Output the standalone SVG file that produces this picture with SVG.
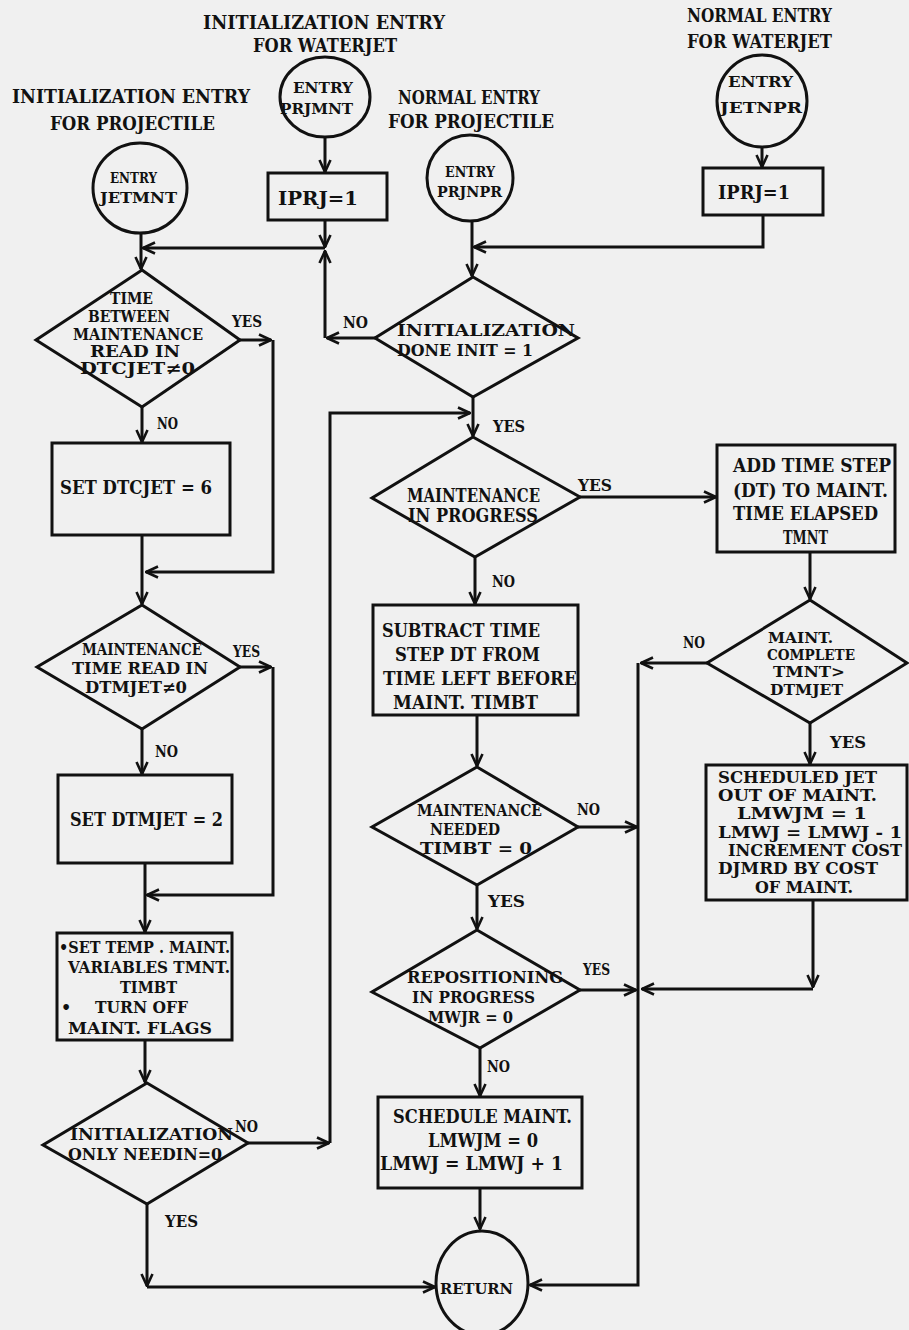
<svg xmlns="http://www.w3.org/2000/svg" width="909" height="1330" viewBox="0 0 909 1330">
<defs>
<marker id="ah" viewBox="0 0 14 14" refX="13" refY="7" markerWidth="14" markerHeight="14" markerUnits="userSpaceOnUse" orient="auto">
<path d="M1,1.5 L13,7 L1,12.5" fill="none" stroke="#111" stroke-width="2.6"/>
</marker>
<style>
.n{fill:#f0f0f0;stroke:#111;stroke-width:3}
.c{fill:none;stroke:#111;stroke-width:3;marker-end:url(#ah)}
text{font-family:"DejaVu Serif","Liberation Serif",serif;font-weight:bold;fill:#111}
.h{font-size:19px}
.b{font-size:19px}
.t{font-size:16px}
.d{font-size:16px}
.l{font-size:17px}
.e{font-size:15px}
</style>
</defs>
<rect width="909" height="1330" fill="#f0f0f0"/>

<g id="headings">
<text class="h" x="203" y="29" textLength="242" lengthAdjust="spacingAndGlyphs">INITIALIZATION ENTRY</text>
<text class="h" x="253" y="52" textLength="144" lengthAdjust="spacingAndGlyphs">FOR WATERJET</text>
<text class="h" x="12" y="103" textLength="238" lengthAdjust="spacingAndGlyphs">INITIALIZATION ENTRY</text>
<text class="h" x="50" y="130" textLength="165" lengthAdjust="spacingAndGlyphs">FOR PROJECTILE</text>
<text class="h" x="398" y="104" textLength="142" lengthAdjust="spacingAndGlyphs">NORMAL ENTRY</text>
<text class="h" x="388" y="128" textLength="166" lengthAdjust="spacingAndGlyphs">FOR PROJECTILE</text>
<text class="h" x="687" y="22" textLength="145" lengthAdjust="spacingAndGlyphs">NORMAL ENTRY</text>
<text class="h" x="687" y="48" textLength="145" lengthAdjust="spacingAndGlyphs">FOR WATERJET</text>
</g>

<g id="connectors">
<path class="c" d="M141,233 V269"/>
<path class="c" d="M325,137 V172"/>
<path class="c" d="M325,220 V247"/>
<path class="c" d="M325,248 H143"/>
<path class="c" d="M375,338 H327"/>
<path class="c" d="M325,338 V251"/>
<path class="c" d="M762,147 V167"/>
<path class="c" d="M763,215 V247 H474"/>
<path class="c" d="M472,221 V276"/>
<path class="c" d="M473,397 V436"/>
<path class="c" d="M248,1143 H329"/>
<path class="c" d="M330,1143 V413 H470"/>
<path class="c" d="M580,497 H716"/>
<path class="c" d="M475,557 V604"/>
<path class="c" d="M477,715 V766"/>
<path class="c" d="M578,827 H637"/>
<path class="c" d="M477,885 V929"/>
<path class="c" d="M580,990 H636"/>
<path class="c" d="M480,1048 V1096"/>
<path class="c" d="M480,1188 V1229"/>
<path class="c" d="M810,552 V599"/>
<path class="c" d="M707,663 H641"/>
<path class="c" d="M638,663 V1285 H530"/>
<path class="c" d="M810,723 V764"/>
<path class="c" d="M813,900 V987"/>
<path class="c" d="M813,989 H642"/>
<path class="c" d="M142,407 V442"/>
<path class="c" d="M142,535 V604"/>
<path class="c" d="M240,340 H271"/>
<path class="c" d="M273,340 V572 H146"/>
<path class="c" d="M142,729 V774"/>
<path class="c" d="M240,667 H271"/>
<path class="c" d="M273,667 V895 H147"/>
<path class="c" d="M145,863 V932"/>
<path class="c" d="M145,1040 V1082"/>
<path class="c" d="M147,1204 V1286"/>
<path class="c" d="M147,1287 H435"/>
</g>

<g id="labels">
<text class="l" x="232" y="327" textLength="30" lengthAdjust="spacingAndGlyphs">YES</text>
<text class="l" x="157" y="429" textLength="21" lengthAdjust="spacingAndGlyphs">NO</text>
<text class="l" x="233" y="657" textLength="27" lengthAdjust="spacingAndGlyphs">YES</text>
<text class="l" x="155" y="757" textLength="23" lengthAdjust="spacingAndGlyphs">NO</text>
<text class="l" x="235" y="1132" textLength="23" lengthAdjust="spacingAndGlyphs">NO</text>
<text class="l" x="165" y="1227" textLength="33" lengthAdjust="spacingAndGlyphs">YES</text>
<text class="l" x="343" y="328" textLength="25" lengthAdjust="spacingAndGlyphs">NO</text>
<text class="l" x="493" y="432" textLength="32" lengthAdjust="spacingAndGlyphs">YES</text>
<text class="l" x="578" y="491" textLength="34" lengthAdjust="spacingAndGlyphs">YES</text>
<text class="l" x="492" y="587" textLength="23" lengthAdjust="spacingAndGlyphs">NO</text>
<text class="l" x="577" y="815" textLength="23" lengthAdjust="spacingAndGlyphs">NO</text>
<text class="l" x="488" y="907" textLength="37" lengthAdjust="spacingAndGlyphs">YES</text>
<text class="l" x="583" y="975" textLength="27" lengthAdjust="spacingAndGlyphs">YES</text>
<text class="l" x="487" y="1072" textLength="23" lengthAdjust="spacingAndGlyphs">NO</text>
<text class="l" x="683" y="648" textLength="22" lengthAdjust="spacingAndGlyphs">NO</text>
<text class="l" x="830" y="748" textLength="36" lengthAdjust="spacingAndGlyphs">YES</text>
</g>

<g id="entry-jetmnt">
<ellipse class="n" cx="140" cy="188" rx="47" ry="45"/>
<text class="e" x="110" y="183" textLength="47" lengthAdjust="spacingAndGlyphs">ENTRY</text>
<text class="e" x="100" y="203" textLength="77" lengthAdjust="spacingAndGlyphs">JETMNT</text>
</g>
<g id="entry-prjmnt">
<ellipse class="n" cx="325" cy="97" rx="45" ry="40"/>
<text class="e" x="293" y="93" textLength="60" lengthAdjust="spacingAndGlyphs">ENTRY</text>
<text class="e" x="280" y="114" textLength="73" lengthAdjust="spacingAndGlyphs">PRJMNT</text>
</g>
<g id="entry-prjnpr">
<ellipse class="n" cx="470" cy="178" rx="43" ry="43"/>
<text class="e" x="445" y="177" textLength="50" lengthAdjust="spacingAndGlyphs">ENTRY</text>
<text class="e" x="437" y="197" textLength="65" lengthAdjust="spacingAndGlyphs">PRJNPR</text>
</g>
<g id="entry-jetnpr">
<ellipse class="n" cx="762" cy="101" rx="45" ry="46"/>
<text class="e" x="728" y="87" textLength="65" lengthAdjust="spacingAndGlyphs">ENTRY</text>
<text class="e" x="720" y="113" textLength="82" lengthAdjust="spacingAndGlyphs">JETNPR</text>
</g>

<g id="iprj-left">
<rect class="n" x="268" y="173" width="119" height="47"/>
<text class="b" x="278" y="205" textLength="80" lengthAdjust="spacingAndGlyphs">IPRJ=1</text>
</g>
<g id="iprj-right">
<rect class="n" x="703" y="168" width="120" height="47"/>
<text class="b" x="718" y="199" textLength="72" lengthAdjust="spacingAndGlyphs">IPRJ=1</text>
</g>

<g id="dec-time-between">
<polygon class="n" points="142,270 240,340 142,407 36,340"/>
<text class="d" x="110" y="304" textLength="43" lengthAdjust="spacingAndGlyphs">TIME</text>
<text class="d" x="88" y="322" textLength="82" lengthAdjust="spacingAndGlyphs">BETWEEN</text>
<text class="d" x="73" y="340" textLength="130" lengthAdjust="spacingAndGlyphs">MAINTENANCE</text>
<text class="d" x="90" y="357" textLength="90" lengthAdjust="spacingAndGlyphs">READ IN</text>
<text class="d" x="80" y="374" textLength="115" lengthAdjust="spacingAndGlyphs">DTCJET≠0</text>
</g>
<g id="set-dtcjet">
<rect class="n" x="52" y="443" width="178" height="92"/>
<text class="b" x="60" y="494" textLength="152" lengthAdjust="spacingAndGlyphs">SET DTCJET = 6</text>
</g>
<g id="dec-maint-time">
<polygon class="n" points="142,605 240,667 142,729 37,667"/>
<text class="d" x="82" y="655" textLength="120" lengthAdjust="spacingAndGlyphs">MAINTENANCE</text>
<text class="d" x="72" y="674" textLength="136" lengthAdjust="spacingAndGlyphs">TIME READ IN</text>
<text class="d" x="85" y="693" textLength="102" lengthAdjust="spacingAndGlyphs">DTMJET≠0</text>
</g>
<g id="set-dtmjet">
<rect class="n" x="58" y="775" width="174" height="88"/>
<text class="b" x="70" y="826" textLength="153" lengthAdjust="spacingAndGlyphs">SET DTMJET = 2</text>
</g>
<g id="set-temp">
<rect class="n" x="57" y="933" width="175" height="107"/>
<text class="t" x="59" y="953" textLength="171" lengthAdjust="spacingAndGlyphs">•SET TEMP . MAINT.</text>
<text class="t" x="68" y="973" textLength="162" lengthAdjust="spacingAndGlyphs">VARIABLES TMNT.</text>
<text class="t" x="120" y="993" textLength="57" lengthAdjust="spacingAndGlyphs">TIMBT</text>
<text class="t" x="61" y="1013">•</text>
<text class="t" x="95" y="1013" textLength="93" lengthAdjust="spacingAndGlyphs">TURN OFF</text>
<text class="t" x="68" y="1034" textLength="144" lengthAdjust="spacingAndGlyphs">MAINT. FLAGS</text>
</g>
<g id="dec-init-only">
<polygon class="n" points="147,1083 248,1143 147,1204 43,1145"/>
<text class="d" x="70" y="1140" textLength="163" lengthAdjust="spacingAndGlyphs">INITIALIZATION</text>
<text class="d" x="68" y="1160" textLength="154" lengthAdjust="spacingAndGlyphs">ONLY NEEDIN=0</text>
</g>

<g id="dec-init-done">
<polygon class="n" points="473,277 578,338 473,397 375,338"/>
<text class="d" x="397" y="336" textLength="178" lengthAdjust="spacingAndGlyphs">INITIALIZATION</text>
<text class="d" x="397" y="356" textLength="136" lengthAdjust="spacingAndGlyphs">DONE INIT = 1</text>
</g>
<g id="dec-maint-progress">
<polygon class="n" points="473,437 580,497 475,557 372,498"/>
<text class="b" x="407" y="502" textLength="133" lengthAdjust="spacingAndGlyphs">MAINTENANCE</text>
<text class="b" x="408" y="522" textLength="130" lengthAdjust="spacingAndGlyphs">IN PROGRESS</text>
</g>
<g id="subtract">
<rect class="n" x="373" y="605" width="205" height="110"/>
<text class="b" x="382" y="637" textLength="158" lengthAdjust="spacingAndGlyphs">SUBTRACT TIME</text>
<text class="b" x="395" y="661" textLength="145" lengthAdjust="spacingAndGlyphs">STEP DT FROM</text>
<text class="b" x="383" y="685" textLength="194" lengthAdjust="spacingAndGlyphs">TIME LEFT BEFORE</text>
<text class="b" x="393" y="709" textLength="145" lengthAdjust="spacingAndGlyphs">MAINT. TIMBT</text>
</g>
<g id="dec-maint-needed">
<polygon class="n" points="477,767 578,827 477,885 372,827"/>
<text class="d" x="417" y="816" textLength="125" lengthAdjust="spacingAndGlyphs">MAINTENANCE</text>
<text class="d" x="430" y="835" textLength="70" lengthAdjust="spacingAndGlyphs">NEEDED</text>
<text class="d" x="420" y="854" textLength="112" lengthAdjust="spacingAndGlyphs">TIMBT = 0</text>
</g>
<g id="dec-repositioning">
<polygon class="n" points="477,930 580,990 480,1048 372,992"/>
<text class="d" x="407" y="983" textLength="156" lengthAdjust="spacingAndGlyphs">REPOSITIONING</text>
<text class="d" x="412" y="1003" textLength="123" lengthAdjust="spacingAndGlyphs">IN PROGRESS</text>
<text class="d" x="428" y="1023" textLength="85" lengthAdjust="spacingAndGlyphs">MWJR = 0</text>
</g>
<g id="schedule-maint">
<rect class="n" x="378" y="1097" width="204" height="91"/>
<text class="b" x="393" y="1123" textLength="179" lengthAdjust="spacingAndGlyphs">SCHEDULE MAINT.</text>
<text class="b" x="428" y="1147" textLength="110" lengthAdjust="spacingAndGlyphs">LMWJM = 0</text>
<text class="b" x="380" y="1170" textLength="183" lengthAdjust="spacingAndGlyphs">LMWJ = LMWJ + 1</text>
</g>
<g id="return">
<ellipse class="n" cx="482" cy="1283" rx="46" ry="52"/>
<text class="e" x="440" y="1294" textLength="73" lengthAdjust="spacingAndGlyphs">RETURN</text>
</g>

<g id="add-time-step">
<rect class="n" x="717" y="445" width="178" height="107"/>
<text class="b" x="733" y="472" textLength="158" lengthAdjust="spacingAndGlyphs">ADD TIME STEP</text>
<text class="b" x="733" y="497" textLength="155" lengthAdjust="spacingAndGlyphs">(DT) TO MAINT.</text>
<text class="b" x="733" y="520" textLength="145" lengthAdjust="spacingAndGlyphs">TIME ELAPSED</text>
<text class="b" x="783" y="544" textLength="45" lengthAdjust="spacingAndGlyphs">TMNT</text>
</g>
<g id="dec-maint-complete">
<polygon class="n" points="810,600 907,663 810,723 707,663"/>
<text class="e" x="768" y="643" textLength="65" lengthAdjust="spacingAndGlyphs">MAINT.</text>
<text class="e" x="767" y="660" textLength="88" lengthAdjust="spacingAndGlyphs">COMPLETE</text>
<text class="e" x="773" y="677" textLength="72" lengthAdjust="spacingAndGlyphs">TMNT&gt;</text>
<text class="e" x="770" y="695" textLength="73" lengthAdjust="spacingAndGlyphs">DTMJET</text>
</g>
<g id="scheduled-jet-out">
<rect class="n" x="706" y="765" width="201" height="135"/>
<text class="t" x="718" y="783" textLength="159" lengthAdjust="spacingAndGlyphs">SCHEDULED JET</text>
<text class="t" x="718" y="801" textLength="159" lengthAdjust="spacingAndGlyphs">OUT OF MAINT.</text>
<text class="t" x="737" y="819" textLength="130" lengthAdjust="spacingAndGlyphs">LMWJM = 1</text>
<text class="t" x="718" y="838" textLength="184" lengthAdjust="spacingAndGlyphs">LMWJ = LMWJ - 1</text>
<text class="t" x="728" y="856" textLength="174" lengthAdjust="spacingAndGlyphs">INCREMENT COST</text>
<text class="t" x="718" y="874" textLength="160" lengthAdjust="spacingAndGlyphs">DJMRD BY COST</text>
<text class="t" x="755" y="893" textLength="98" lengthAdjust="spacingAndGlyphs">OF MAINT.</text>
</g>
</svg>
